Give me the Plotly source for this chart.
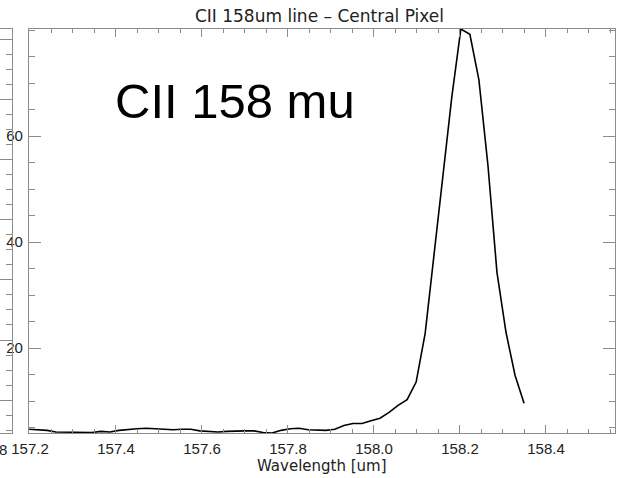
import plotly.graph_objects as go

# CII 158 um spectrum, central pixel
wavelength_um = [
    157.198, 157.219, 157.240, 157.260, 157.281, 157.302, 157.323, 157.344,
    157.365, 157.386, 157.407, 157.428, 157.449, 157.470, 157.491, 157.512,
    157.533, 157.553, 157.574, 157.595, 157.616, 157.637, 157.658, 157.679,
    157.700, 157.721, 157.742, 157.763, 157.784, 157.805, 157.826, 157.847,
    157.867, 157.888, 157.909, 157.930, 157.951, 157.972, 157.993, 158.014,
    158.035, 158.056, 158.077, 158.098, 158.119, 158.140, 158.160, 158.181,
    158.202, 158.223, 158.244, 158.265, 158.286, 158.307, 158.328, 158.349,
]
flux = [
    4.7, 4.6, 4.5, 4.2, 4.2, 4.2, 4.2, 4.1,
    4.3, 4.2, 4.5, 4.7, 4.8, 4.9, 4.8, 4.6,
    4.6, 4.7, 4.7, 4.4, 4.3, 4.2, 4.3, 4.4,
    4.4, 4.4, 4.1, 4.0, 4.5, 4.8, 4.9, 4.6,
    4.5, 4.5, 4.7, 5.4, 5.8, 5.8, 6.3, 6.8,
    7.9, 9.2, 10.3, 13.6, 22.8, 37.5, 51.7, 67.4,
    80.2, 79.2, 70.6, 54.5, 34.3, 23.0, 14.9, 9.6,
]
y_tick_values = [20, 40, 60]

title_text = "CII 158um line \u2013 Central Pixel"
x_title = "Wavelength [um]"
big_label = "CII 158 mu"

FONT = "Liberation Sans"
WIDE_FONT = "DejaVu Sans"
FRAME = "#8c8c8c"
TEXT = "#222222"

W, H = 619, 478
R, T, B = 4, 29, 45
PW = W - R            # plotting width (left margin is zero)
PH = H - T - B
X0 = 29               # left edge of the main frame, px
XN = 12               # right edge of the neighbouring frame, px


def px_x(px):
    return px / PW


def px_y(py):
    return (H - B - py) / PH


fig = go.Figure()

fig.add_trace(go.Scatter(
    x=wavelength_um, y=flux, mode="lines",
    line=dict(color="black", width=1.6),
    showlegend=False, hoverinfo="skip",
))

# neighbouring panel frame, only its right edge shows
fig.add_trace(go.Scatter(x=[0.5], y=[0], mode="markers", marker=dict(opacity=0),
                         xaxis="x2", yaxis="y2", showlegend=False, hoverinfo="skip"))

fig.update_layout(
    width=W, height=H,
    margin=dict(l=0, r=R, t=T, b=B, pad=0, autoexpand=False),
    paper_bgcolor="white", plot_bgcolor="white",
    font=dict(family=FONT, color=TEXT, size=15),
    title=dict(text=title_text, x=319.5 / W, xanchor="center",
               y=1 - 16 / H, yanchor="middle", yref="container",
               font=dict(family=WIDE_FONT, size=17, color=TEXT)),
    xaxis=dict(
        range=[157.1977, 158.5605], domain=[px_x(X0), 1], automargin=False,
        showgrid=False, zeroline=False,
        showline=True, linecolor=FRAME, linewidth=1.2, mirror="allticks",
        ticks="inside", ticklen=8, tickcolor=FRAME, tickwidth=1,
        tick0=157.2, dtick=0.2, tickformat=".1f",
        minor=dict(dtick=0.05, ticks="inside", ticklen=4, tickcolor=FRAME, tickwidth=1),
        tickfont=dict(size=15, color=TEXT), ticklabelstandoff=2,
    ),
    yaxis=dict(
        range=[4.0, 80.2], domain=[0, 1], anchor="x", automargin=False,
        showgrid=False, zeroline=False,
        showline=True, linecolor=FRAME, linewidth=1.2, mirror="allticks",
        ticks="inside", ticklen=12, tickcolor=FRAME, tickwidth=1,
        tickmode="array", tickvals=y_tick_values,
        minor=dict(tick0=0, dtick=5, ticks="inside", ticklen=6, tickcolor=FRAME, tickwidth=1),
        tickfont=dict(size=15, color=TEXT), ticklabelstandoff=2,
    ),
    xaxis2=dict(
        domain=[0, px_x(XN)], anchor="y2", range=[0, 1], automargin=False,
        showgrid=False, zeroline=False, showticklabels=False,
        showline=True, linecolor=FRAME, linewidth=1.2, mirror=True, ticks="",
    ),
    yaxis2=dict(
        domain=[0, 1], anchor="x2", side="right", range=[-0.55, 6.183], automargin=False,
        showgrid=False, zeroline=False, showticklabels=False,
        showline=True, linecolor=FRAME, linewidth=1.2,
        ticks="inside", ticklen=12, tickcolor=FRAME, tick0=0, dtick=1,
        minor=dict(dtick=0.25, ticks="inside", ticklen=6, tickcolor=FRAME),
    ),
    annotations=[
        dict(text=big_label, xref="paper", yref="paper",
             x=px_x(113), xanchor="left",
             y=px_y(101), yanchor="middle",
             showarrow=False, font=dict(family=FONT, size=49, color="black")),
        dict(text=x_title, xref="paper", yref="paper",
             x=px_x(322), xanchor="center",
             y=px_y(466), yanchor="middle",
             showarrow=False, font=dict(family=WIDE_FONT, size=15, color=TEXT)),
        dict(text="8", xref="paper", yref="paper",
             x=px_x(9), xanchor="right",
             y=px_y(449), yanchor="middle",
             showarrow=False, font=dict(family=FONT, size=15, color=TEXT)),
    ],
)

fig.write_html("out.html")
